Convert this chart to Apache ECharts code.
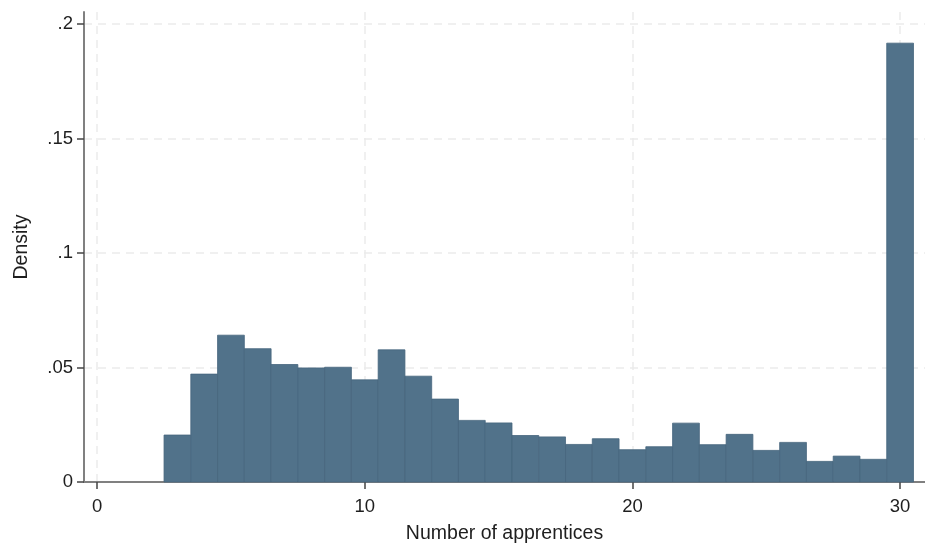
<!DOCTYPE html>
<html>
<head>
<meta charset="utf-8">
<script src="https://cdn.jsdelivr.net/npm/echarts@6/dist/echarts.min.js"></script>
<style>
  html, body { margin: 0; padding: 0; background: #fff; }
  #main { width: 925px; height: 549px; }
</style>
</head>
<body>
<div id="main"></div>
<script>
// histogram bins (centre of each bin, width 1) and their density
var binCenters = [3, 4, 5, 6, 7, 8, 9, 10, 11, 12, 13, 14, 15, 16, 17, 18, 19, 20,
                  21, 22, 23, 24, 25, 26, 27, 28, 29, 30];
var densities = [0.0205, 0.0471, 0.0641, 0.0582, 0.0513, 0.0498, 0.0501, 0.0446, 0.0577,
                 0.0462, 0.0362, 0.0269, 0.0258, 0.0203, 0.0197, 0.0164, 0.0189, 0.0141,
                 0.0154, 0.0257, 0.0163, 0.0208, 0.0138, 0.0173, 0.0090, 0.0113, 0.0099, 0.1916];
var binWidth = 1;

var xTicks = [0, 10, 20, 30];
var yTicks = [0, 0.05, 0.1, 0.15, 0.2];
var yTickLabels = ['0', '.05', '.1', '.15', '.2'];

var myChart = echarts.init(document.getElementById('main'));

var data = binCenters.map(function (c, i) { return [c, densities[i]]; });

var option = {
    animation: false,
    textStyle: { fontFamily: 'Liberation Sans, Arial, sans-serif' },
    grid: { left: 84, right: 0, top: 12, bottom: 66 },
    xAxis: {
        type: 'value',
        min: -0.49,
        max: 30.93,
        name: 'Number of apprentices',
        nameLocation: 'middle',
        nameGap: 42,
        nameTextStyle: { fontSize: 19.5, color: '#1e1e1e' },
        axisLine: { onZero: false, lineStyle: { color: '#808080', width: 2 } },
        axisTick: { customValues: xTicks, length: 7, lineStyle: { color: '#444', width: 1.5 } },
        axisLabel: { customValues: xTicks, fontSize: 18.5, color: '#1e1e1e', margin: 15 },
        splitLine: { show: true, lineStyle: { color: '#ebebeb', type: [8, 6], width: 1.5 } }
    },
    yAxis: {
        type: 'value',
        min: 0,
        max: 0.2052,
        name: 'Density',
        nameLocation: 'middle',
        nameGap: 52,
        nameTextStyle: { fontSize: 19.5, color: '#1e1e1e' },
        axisLine: { show: true, onZero: false, lineStyle: { color: '#808080', width: 2 } },
        axisTick: { show: true, customValues: yTicks, length: 7, lineStyle: { color: '#444', width: 1.5 } },
        axisLabel: {
            customValues: yTicks,
            fontSize: 18.5,
            color: '#1e1e1e',
            margin: 11,
            formatter: function (v) {
                var i = yTicks.findIndex(function (t) { return Math.abs(t - v) < 1e-9; });
                return i >= 0 ? yTickLabels[i] : '';
            }
        },
        splitLine: { show: true, lineStyle: { color: '#ebebeb', type: [8, 6], width: 1.5 } }
    },
    series: [{
        type: 'custom',
        data: data,
        renderItem: function (params, api) {
            var c = api.value(0);
            var h = api.value(1);
            var p0 = api.coord([c - binWidth / 2, h]);
            var p1 = api.coord([c + binWidth / 2, 0]);
            return {
                type: 'rect',
                shape: { x: p0[0], y: p0[1], width: p1[0] - p0[0], height: p1[1] - p0[1] },
                style: { fill: '#51728a', stroke: '#46667e', lineWidth: 0.8 }
            };
        }
    }]
};

myChart.setOption(option);
</script>
</body>
</html>
